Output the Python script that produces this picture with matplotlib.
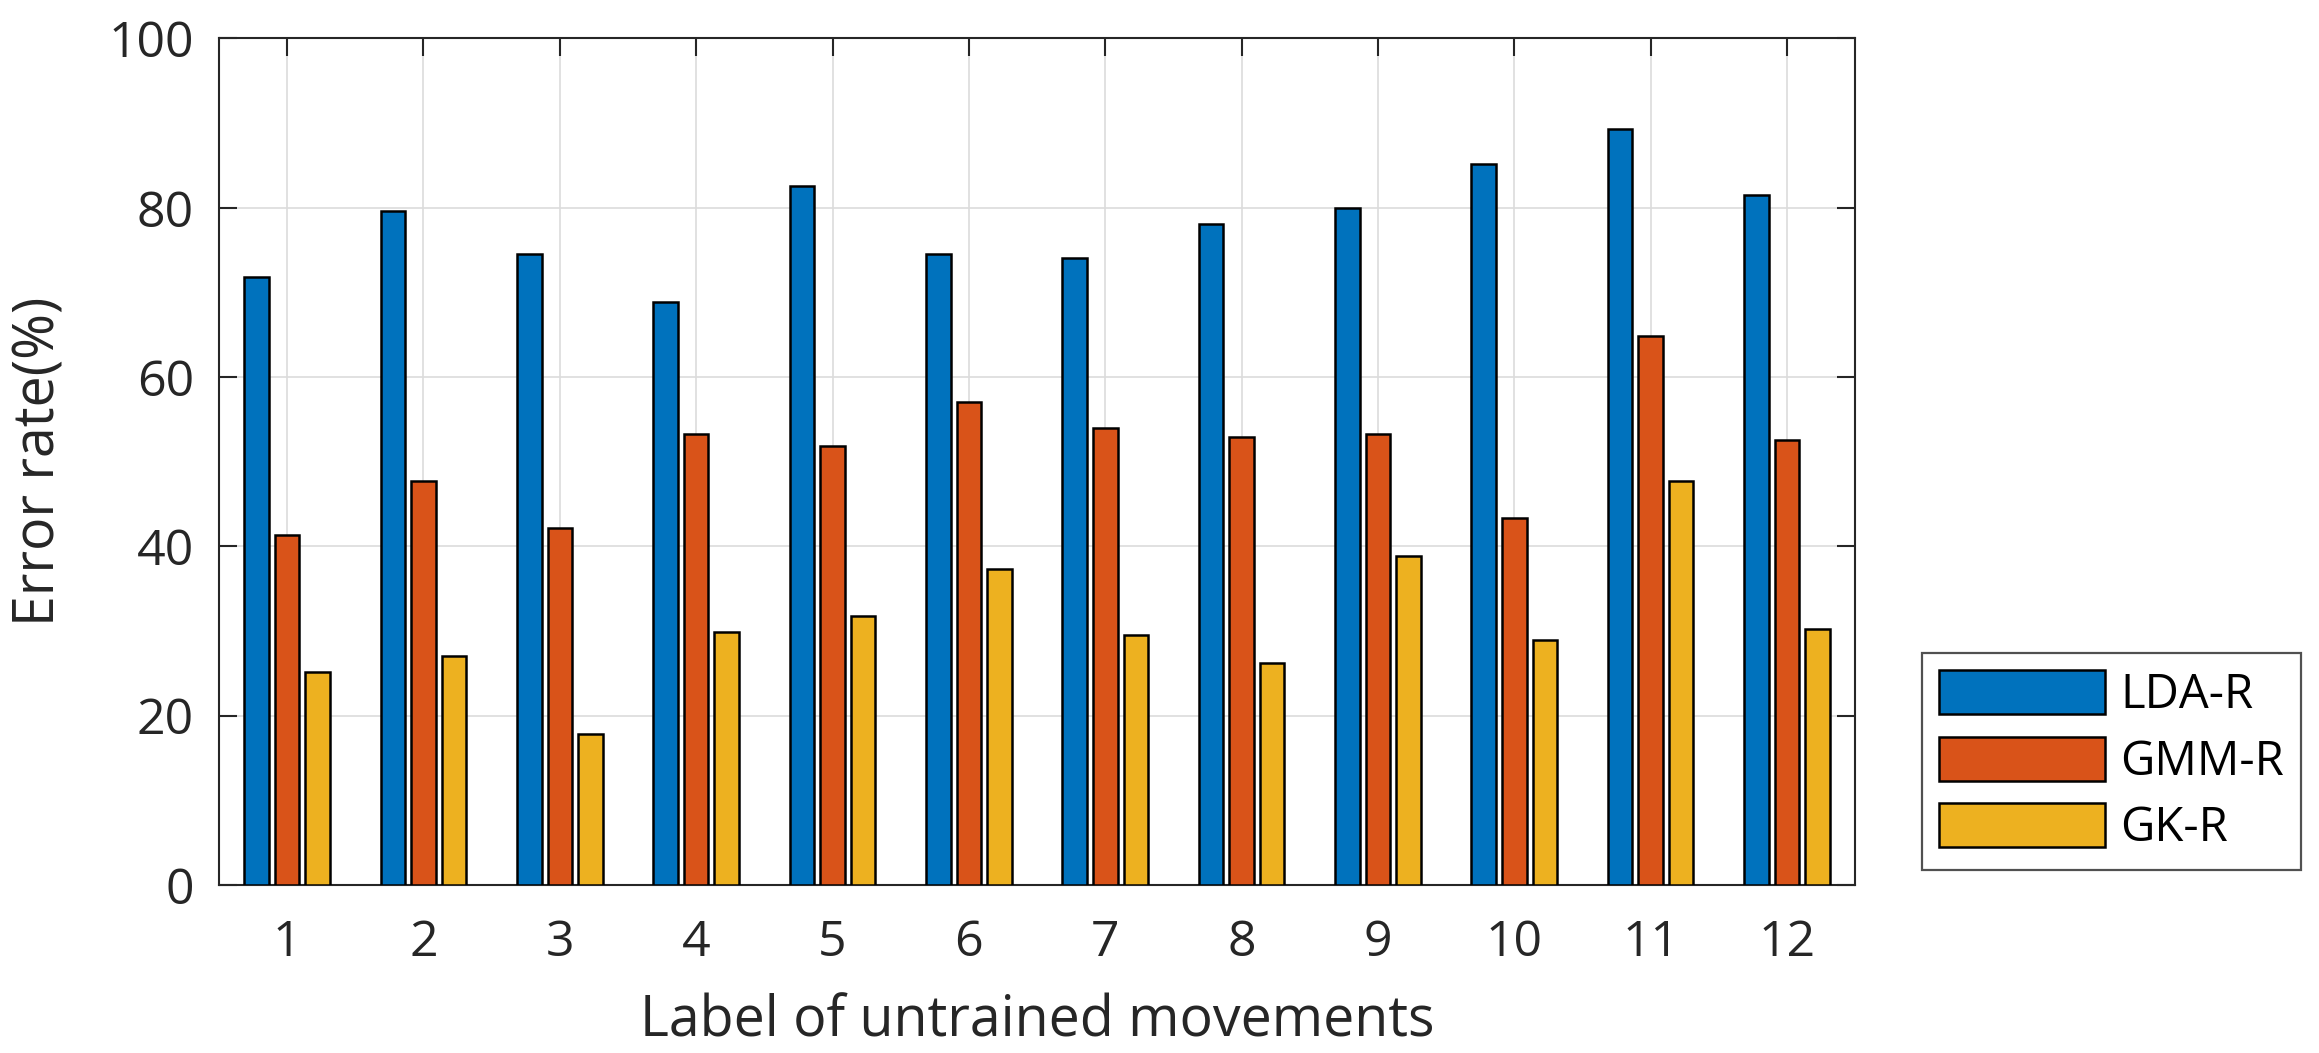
import numpy as np
import matplotlib
matplotlib.use('Agg')
import matplotlib.pyplot as plt

# datos
movimientos = [1, 2, 3, 4, 5, 6, 7, 8, 9, 10, 11, 12]
lda_r = [71.8, 79.6, 74.5, 68.9, 82.6, 74.5, 74.1, 78.1, 80.0, 85.2, 89.3, 81.5]
gmm_r = [41.4, 47.7, 42.2, 53.3, 51.9, 57.0, 54.0, 52.9, 53.3, 43.3, 64.8, 52.6]
gk_r = [25.2, 27.0, 17.8, 29.9, 31.8, 37.3, 29.5, 26.2, 38.9, 28.9, 47.7, 30.3]
series = ['LDA-R', 'GMM-R', 'GK-R']
colores = ['#0072BD', '#D95319', '#EDB120']

plt.rcParams['font.family'] = ['Open Sans', 'DejaVu Sans']

fig = plt.figure(figsize=(23.19, 10.53), dpi=100)
ax = fig.add_axes([0.0944, 0.1595, 0.7056, 0.804])

x = np.array(movimientos)
ancho = 0.18
desp = 0.224
for i, (vals, nombre, c) in enumerate(zip([lda_r, gmm_r, gk_r], series, colores)):
    ax.bar(x + (i - 1) * desp, vals, width=ancho, color=c, edgecolor='black',
           linewidth=1.8, label=nombre, zorder=3)

ax.set_xlim(0.5, 12.5)
ax.set_ylim(0, 100)
ax.set_xticks(movimientos)
ax.set_yticks([0, 20, 40, 60, 80, 100])
ax.grid(True, color='#dcdcdc', linewidth=1.2, zorder=0)
ax.tick_params(direction='in', length=13, width=1.5, top=True, right=True,
               labelsize=36, colors='#262626')
ax.tick_params(axis='x', pad=24)
ax.tick_params(axis='y', pad=18)
for s in ax.spines.values():
    s.set_linewidth(1.5)
    s.set_color('#262626')

ax.set_xlabel('Label of untrained movements', fontsize=40, color='#262626')
ax.set_ylabel('Error rate(%)', fontsize=40, color='#262626')
ax.xaxis.set_label_coords(0.5, -0.128)
ax.yaxis.set_label_coords(-0.092, 0.5)

leg = fig.legend(loc='upper left', bbox_to_anchor=(0.8287, 0.380),
                 borderaxespad=0, fontsize=34, fancybox=False, edgecolor='#262626',
                 handlelength=3.5, handleheight=1.05, labelspacing=0.37,
                 borderpad=0.37, handletextpad=0.33)
leg.get_frame().set_linewidth(1.6)

fig.savefig('out.png', dpi=100)
